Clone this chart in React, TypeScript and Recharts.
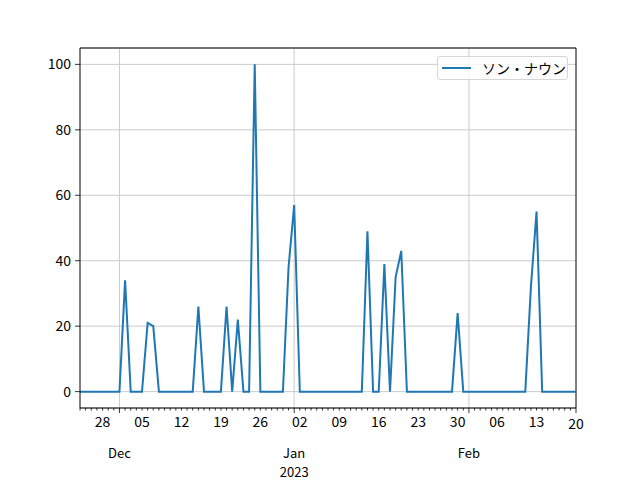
import React from "react";
import {
  LineChart, Line, XAxis, YAxis, CartesianGrid, ReferenceLine,
} from "recharts";

// daily series starting 2022-11-24
const startDate = "2022-11-24";
const values = [
  0, 0, 0, 0, 0, 0, 0, 0, 34, 0, 0, 0, 21, 20, 0, 0, 0, 0, 0, 0, 0, 26,
  0, 0, 0, 0, 26, 0, 22, 0, 0, 100, 0, 0, 0, 0, 0, 38, 57, 0, 0, 0, 0, 0,
  0, 0, 0, 0, 0, 0, 0, 49, 0, 0, 39, 0, 35, 43, 0, 0, 0, 0, 0, 0, 0, 0,
  0, 24, 0, 0, 0, 0, 0, 0, 0, 0, 0, 0, 0, 0, 32, 55, 0, 0, 0, 0, 0, 0, 0,
];
const weekTickDates = [
  "2022-11-28", "2022-12-05", "2022-12-12", "2022-12-19", "2022-12-26",
  "2023-01-02", "2023-01-09", "2023-01-16", "2023-01-23", "2023-01-30",
  "2023-02-06", "2023-02-13", "2023-02-20",
];
const monthTickDates = ["2022-12-01", "2023-01-01", "2023-02-01"];
const monthLabels = [["Dec"], ["Jan", "2023"], ["Feb"]];
const yTicks = [0, 20, 40, 60, 80, 100];
const seriesName = "ソン・ナウン";

const DAY = 86400000;
const t0 = Date.parse(startDate);
const data = values.map((v, i) => ({ t: t0 + i * DAY, v }));
const dayTicks = data.map((d) => d.t);
const tEnd = dayTicks[dayTicks.length - 1];
const weekSet = new Set(weekTickDates.map((s) => Date.parse(s)));
const monthTs = monthTickDates.map((s) => Date.parse(s));

const FONT = "'Noto Sans CJK JP', 'Noto Sans', sans-serif";

const XTick = (props: any) => {
  const { x, y, payload } = props;
  const t = payload.value as number;
  const mi = monthTs.indexOf(t);
  const isEnd = t === tEnd;
  const long = mi >= 0 || isEnd;
  const d = new Date(t);
  return (
    <g>
      <line x1={x} x2={x} y1={y} y2={y + (long ? 5 : 2.5)} stroke="#000" strokeWidth={0.8} />
      {weekSet.has(t) && (
        <text x={x} y={y + (isEnd ? 21 : 19)} textAnchor="middle" fontSize={14} fill="#000" fontFamily={FONT}>
          {String(d.getUTCDate()).padStart(2, "0")}
        </text>
      )}
      {mi >= 0 &&
        monthLabels[mi].map((s, k) => (
          <text key={k} x={x} y={y + 50 + k * 19} textAnchor="middle" fontSize={13} fill="#000" fontFamily={FONT}>
            {s}
          </text>
        ))}
    </g>
  );
};

export default function App() {
  return (
    <div style={{ position: "absolute", left: 0, top: 0, width: 640, height: 480, background: "#fff", fontFamily: FONT }}>
      <LineChart width={640} height={480} data={data} margin={{ top: 48, right: 64, bottom: 0, left: 0 }}>
        <CartesianGrid vertical={false} stroke="#cbcbcb" strokeWidth={1} />
        <XAxis
          dataKey="t"
          type="number"
          domain={[t0, tEnd]}
          ticks={dayTicks}
          interval={0}
          height={72}
          tickSize={0}
          tickMargin={0}
          tickLine={false}
          axisLine={{ stroke: "#000", strokeWidth: 1 }}
          tick={<XTick />}
        />
        <YAxis
          type="number"
          domain={[-5, 105]}
          ticks={yTicks}
          width={80}
          tickSize={5}
          tickMargin={4}
          tickLine={{ stroke: "#000", strokeWidth: 0.8 }}
          axisLine={{ stroke: "#000", strokeWidth: 1 }}
          tick={{ fill: "#000", fontSize: 14, fontFamily: FONT }}
        />
        {monthTs.map((t) => (
          <ReferenceLine key={t} x={t} stroke="#cbcbcb" strokeWidth={1} />
        ))}
        <ReferenceLine y={105} stroke="#000" strokeWidth={1} />
        <ReferenceLine x={tEnd} stroke="#000" strokeWidth={1} />
        <Line
          type="linear"
          dataKey="v"
          name={seriesName}
          stroke="#1f77b4"
          strokeWidth={2}
          dot={false}
          isAnimationActive={false}
        />
      </LineChart>
      <div
        style={{
          position: "absolute", left: 437, top: 56, width: 131, height: 24,
          border: "1px solid #d6d6d6", borderRadius: 3, background: "rgba(255,255,255,0.8)",
          boxSizing: "border-box",
        }}
      >
        <div style={{ position: "absolute", left: 4, top: 10, width: 29, height: 2, background: "#1f77b4" }} />
        <div style={{ position: "absolute", left: 44, top: 1, fontSize: 14, lineHeight: "20px", color: "#000", whiteSpace: "nowrap" }}>
          {seriesName}
        </div>
      </div>
    </div>
  );
}
